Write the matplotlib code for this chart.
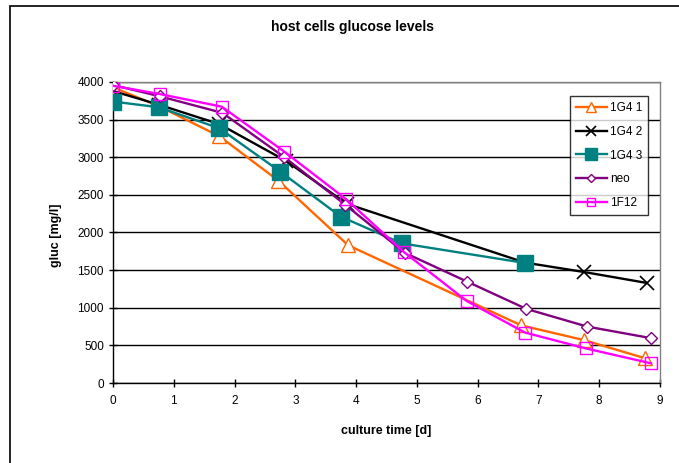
import matplotlib
matplotlib.use("Agg")
import matplotlib.pyplot as plt
from matplotlib.patches import Rectangle

plt.rcParams['font.family'] = ['Liberation Sans', 'DejaVu Sans']

# Data
s1_x = [0, 0.75, 1.75, 2.72, 3.87, 6.72, 7.75, 8.75]
s1_y = [3930, 3680, 3280, 2690, 1830, 765, 570, 330]
s2_x = [0, 0.75, 1.75, 2.85, 3.85, 6.78, 7.75, 8.78]
s2_y = [3880, 3700, 3440, 2950, 2380, 1600, 1475, 1330]
s3_x = [0, 0.75, 1.75, 2.75, 3.75, 4.75, 6.78]
s3_y = [3740, 3665, 3385, 2810, 2210, 1856, 1595]
neo_x = [0, 0.77, 1.8, 2.82, 3.82, 4.8, 5.83, 6.8, 7.8, 8.86]
neo_y = [3960, 3810, 3590, 3000, 2370, 1730, 1346, 985, 750, 595]
f12_x = [0, 0.77, 1.79, 2.82, 3.84, 4.78, 5.82, 6.78, 7.78, 8.85]
f12_y = [3950, 3840, 3672, 3074, 2440, 1745, 1090, 670, 460, 262]

labels = ['1G4 1', '1G4 2', '1G4 3', 'neo', '1F12']
title = 'host cells glucose levels'
xlabel = 'culture time [d]'
ylabel = 'gluc [mg/l]'

W, H = 679, 463
fig = plt.figure(figsize=(W / 100, H / 100), dpi=100)
ax = fig.add_axes([113 / W, 1 - 383 / H, (660 - 113) / W, (383 - 82) / H])

lw = 1.7
ax.plot(s1_x, s1_y, color='#FF6600', lw=lw, marker='^', ms=10.5, mfc='white',
        mec='#FF6600', mew=1.0, label=labels[0], zorder=3)
ax.plot(s2_x, s2_y, color='black', lw=lw, marker='x', ms=10, mec='black',
        mew=1.2, label=labels[1], zorder=4)
ax.plot(s3_x, s3_y, color='#008080', lw=lw, marker='s', ms=11.5, mfc='#008080',
        mec='#008080', label=labels[2], zorder=5)
ax.plot(neo_x, neo_y, color='#800080', lw=lw, marker='D', ms=6.5, mfc='white',
        mec='#800080', mew=1.0, label=labels[3], zorder=6)
ax.plot(f12_x, f12_y, color='#FF00FF', lw=lw, marker='s', ms=9, mfc='none',
        mec='#FF00FF', mew=1.0, label=labels[4], zorder=7)

ax.set_xlim(0, 9)
ax.set_ylim(0, 4000)
ax.set_xticks(range(0, 10))
ax.set_yticks(range(0, 4001, 500))
ax.yaxis.grid(True, color='black', lw=1.0)
ax.set_axisbelow(True)
ax.tick_params(direction='inout', length=6, width=1, labelsize=8.5, colors='black')
ax.tick_params(axis='x', pad=6)
for s in ['left', 'bottom']:
    ax.spines[s].set_color('black')
    ax.spines[s].set_linewidth(1.0)
for s in ['top', 'right']:
    ax.spines[s].set_color('#808080')
    ax.spines[s].set_linewidth(1.0)

fig.text(352 / W, 1 - 27 / H, title, ha='center', va='center', fontsize=10, fontweight='bold')
fig.text(386 / W, 1 - 431 / H, xlabel, ha='center', va='center', fontsize=9, fontweight='bold')
fig.text(56 / W, 1 - 235 / H, ylabel, ha='center', va='center', fontsize=9,
         fontweight='bold', rotation=90)

leg = ax.legend(loc='upper left', bbox_to_anchor=(570 / W, 1 - 96 / H),
                bbox_transform=fig.transFigure, frameon=True, fancybox=False,
                edgecolor='black', fontsize=8.5, markerscale=0.7, handlelength=2.6,
                labelspacing=1.0, borderpad=0.5, handletextpad=0.3, borderaxespad=0)
leg.get_frame().set_linewidth(1.0)
leg.set_zorder(20)

fig.patches.append(Rectangle((10 / W, -0.1), 1.2, 1 - 6 / H + 0.1, transform=fig.transFigure,
                             fill=False, edgecolor='black', lw=1.2))

fig.savefig('out.png', dpi=100)
